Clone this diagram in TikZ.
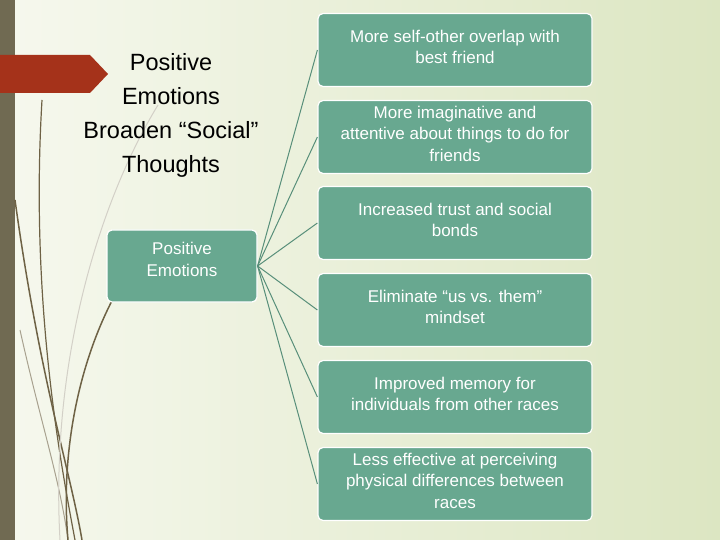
\documentclass[tikz,border=0pt]{standalone}
\usepackage{fontspec}
\setmainfont{Liberation Sans}
\definecolor{boxgreen}{HTML}{68A890}
\definecolor{olivebar}{HTML}{706A52}
\definecolor{arrowred}{HTML}{A5321A}
\definecolor{stem}{HTML}{6E6245}
\definecolor{bgleft}{HTML}{F6F8EE}
\definecolor{bgright}{HTML}{DCE6C2}
\tikzset{
  itembox/.style={draw=white, line width=1.2pt, fill=boxgreen, rounded corners=5pt},
  itemtext/.style={text=white, align=center, font=\fontsize{17}{21.5}\selectfont, anchor=north, inner sep=0pt},
  link/.style={draw=boxgreen!85!black, line width=1pt}
}
\begin{document}
\begin{tikzpicture}[x=1pt, y=-1pt]
    \useasboundingbox (0,0) rectangle (720,540);
    % Background
    \shade[left color=bgleft, right color=bgright] (0,0) rectangle (720,540);
    \fill[olivebar] (0,0) rectangle (15,540);

    % Decorative stems
    \draw[stem, line width=1.5pt] (15,200) .. controls (40,380) and (70,470) .. (82,540);
    \draw[stem, line width=1.2pt] (42,100) .. controls (30,300) and (60,460) .. (75,540);
    \draw[stem!60, line width=1pt] (20,330) .. controls (40,420) and (60,480) .. (68,540);
    \draw[stem, line width=1.5pt] (115,295) .. controls (80,360) and (60,450) .. (68,540);
    \draw[stem!30, line width=1pt] (158,105) .. controls (100,200) and (50,360) .. (60,540);

    % Red arrow
    \fill[arrowred] (0,55) -- (90,55) -- (108,74) -- (90,93) -- (0,93) -- cycle;

    % Title
    \node[align=center, font=\fontsize{23.5}{34}\selectfont] (title) at (171,115)
        {Positive\\Emotions\\Broaden “Social”\\Thoughts};

    % Boxes
    \node[itembox, minimum width=150, minimum height=72] (pe) at (182,266) {};
    \node[itemtext] (pet) at ([yshift=-13]pe.north) {Positive\\Emotions};
    \foreach \i/\off/\txt [count=\n] in {
        50/17/{More self-other overlap with\\best friend},
        137/6/{More imaginative and\\attentive about things to do for\\friends},
        223/17/{Increased trust and social\\bonds},
        310/17/{Eliminate “us vs. them”\\mindset},
        397/17/{Improved memory for\\individuals from other races},
        484/6/{Less effective at perceiving\\physical differences between\\races}}
    {
        \node[itembox, minimum width=274, minimum height=73] (r\n) at (455,\i) {};
        \node[itemtext] (t\n) at ([yshift=-\off]r\n.north) {\txt};
    }
    \foreach \n in {1,...,6}
        \draw[link] (pe.east) -- (r\n.west);
\end{tikzpicture}
\end{document}
